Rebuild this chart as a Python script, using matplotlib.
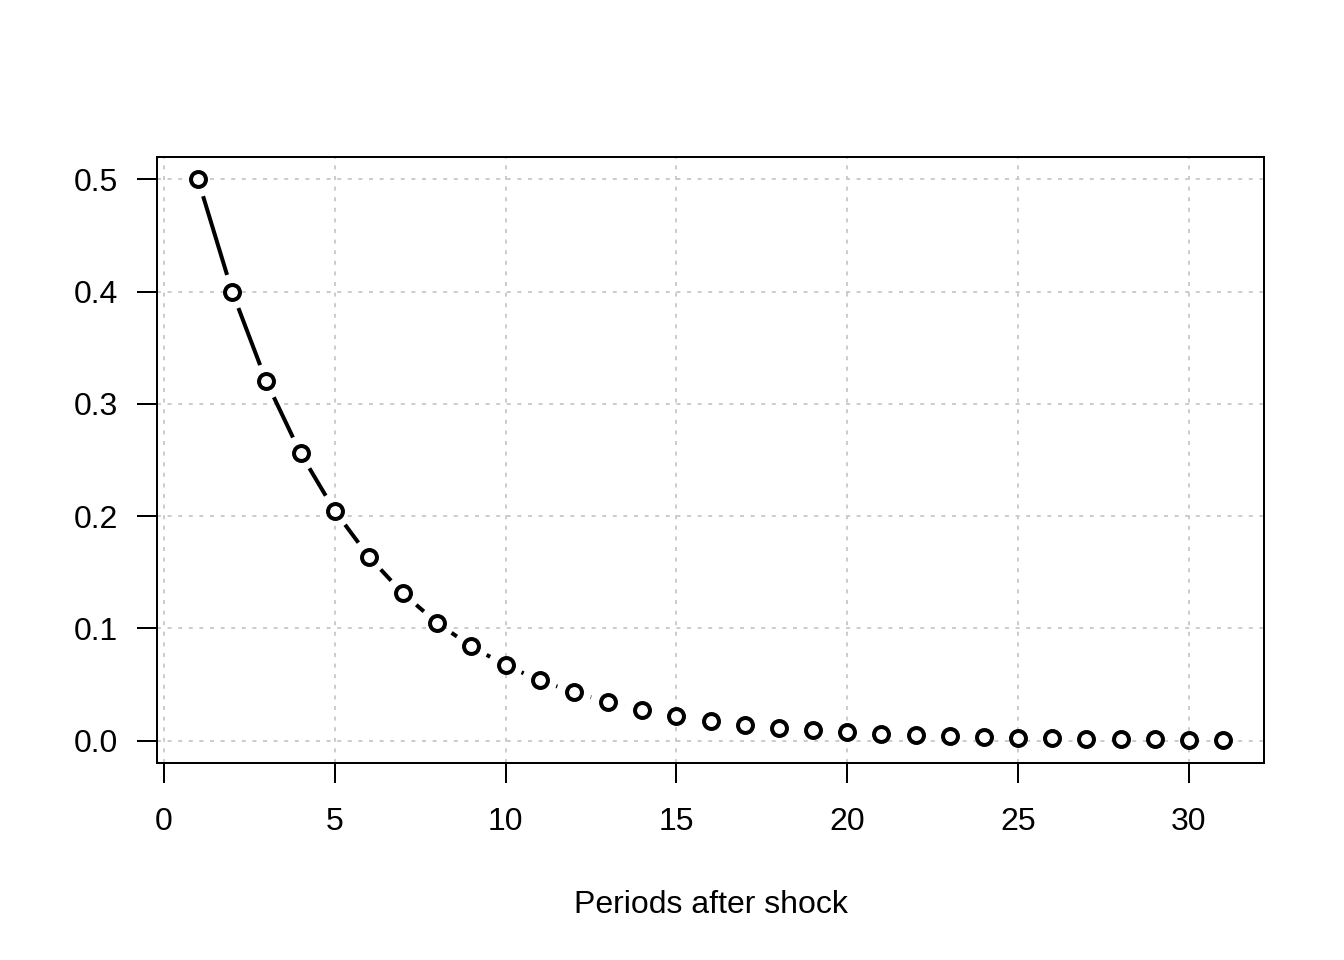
import matplotlib
matplotlib.use("Agg")
import matplotlib.pyplot as plt
import numpy as np

# impulse response values
periods = list(range(1, 32))
response = [0.5, 0.4, 0.32, 0.256, 0.2048, 0.16384, 0.131072, 0.1048576,
            0.0838861, 0.0671089, 0.0536871, 0.0429497, 0.0343597, 0.0274878,
            0.0219902, 0.0175922, 0.0140737, 0.011259, 0.0090072, 0.0072058,
            0.0057646, 0.0046117, 0.0036893, 0.0029515, 0.0023612, 0.0018889,
            0.0015112, 0.0012089, 0.0009671, 0.0007737, 0.000619]
x_ticks = [0, 5, 10, 15, 20, 25, 30]
y_ticks = [0.0, 0.1, 0.2, 0.3, 0.4, 0.5]
x_label = "Periods after shock"

plt.rcParams["font.family"] = ["Liberation Sans", "DejaVu Sans"]
plt.rcParams["font.size"] = 12

fig = plt.figure(figsize=(7, 5), dpi=192)
ax = fig.add_axes([157 / 1344, 1 - 763 / 960, 1107 / 1344, 606 / 960])

ax.set_xlim(-0.2, 32.2)
ax.set_ylim(-0.02, 0.52)

# dotted grid at the ticks, like R's grid()
for xv in x_ticks:
    ax.axvline(xv, color="#cccccc", lw=0.75, dashes=(2.0, 3.3), zorder=0)
for yv in y_ticks:
    ax.axhline(yv, color="#cccccc", lw=0.75, dashes=(2.0, 3.3), zorder=0)

# type="b": segments with a gap around each point (gap in pixels)
gap = 17.5
pts = ax.transData.transform(np.column_stack([periods, response]))
inv = ax.transData.inverted()
for p0, p1 in zip(pts[:-1], pts[1:]):
    d = p1 - p0
    dist = np.hypot(*d)
    if dist <= 2 * gap:
        continue
    u = d / dist
    seg = inv.transform(np.array([p0 + u * gap, p1 - u * gap]))
    ax.plot(seg[:, 0], seg[:, 1], color="black", lw=1.5,
            solid_capstyle="butt", zorder=2)

ax.plot(periods, response, linestyle="none", marker="o", ms=5.6,
        mfc="white", mec="black", mew=1.5, zorder=3)

ax.set_xticks(x_ticks)
ax.set_yticks(y_ticks)
ax.set_yticklabels([f"{v:.1f}" for v in y_ticks])
ax.tick_params(direction="out", length=7.5, width=0.75, color="black",
               labelsize=12)
ax.tick_params(axis="y", pad=7.0)
ax.tick_params(axis="x", pad=9.0)
for s in ax.spines.values():
    s.set_linewidth(0.75)

ax.set_xlabel(x_label, fontsize=12, labelpad=20)

fig.savefig("out.png", dpi=192)
